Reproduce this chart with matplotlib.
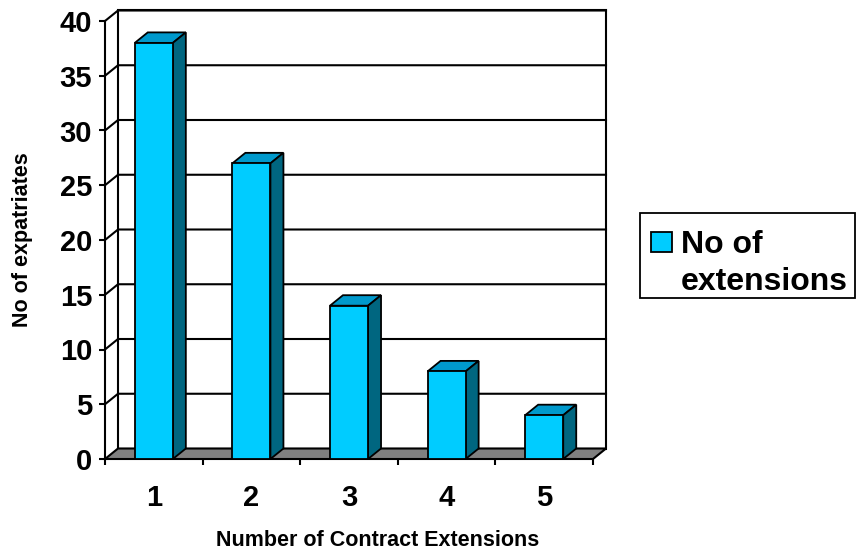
import matplotlib.pyplot as plt
from matplotlib.patches import Rectangle, Polygon

plt.rcParams['font.family'] = ['Liberation Sans', 'DejaVu Sans']
plt.rcParams['font.weight'] = 'bold'

# Data
extensions = [1, 2, 3, 4, 5]
expatriates = [38, 27, 14, 8, 4]
y_ticks = [0, 5, 10, 15, 20, 25, 30, 35, 40]
series_name = "No of\nextensions"

front_col = '#00CCFF'
top_col = '#0099CC'
side_col = '#006680'
floor_col = '#808080'

W, H = 859, 550
fig = plt.figure(figsize=(W / 100, H / 100), dpi=100)
# front plane of the 3-D box
ax = fig.add_axes([105 / W, 1 - 459 / H, 488 / W, 438 / H])
ax.set_xlim(0.5, 5.5)
ax.set_ylim(0, 40)

# depth of the box in data units
DX = 13 / 97.6
DY = 10.5 / 10.95

# back wall with gridlines running across the side wall
ax.add_patch(Rectangle((0.5 + DX, DY), 5, 40, fc='white', ec='black', lw=1.5,
                       clip_on=False, zorder=1))
for v in y_ticks[1:]:
    ax.plot([0.5, 0.5 + DX, 5.5 + DX], [v, v + DY, v + DY], color='black',
            lw=1.5, clip_on=False, zorder=1)

# floor
ax.add_patch(Polygon([(0.5, 0), (5.5, 0), (5.5 + DX, DY), (0.5 + DX, DY)],
                     closed=True, fc=floor_col, ec='black', lw=1.5,
                     clip_on=False, zorder=2))

# bars with top and side faces
bw = 0.39
ax.bar(extensions, expatriates, width=bw, color=front_col, ec='black', lw=1.3,
       zorder=4, clip_on=False)
for x, v in zip(extensions, expatriates):
    x0, x1 = x - bw / 2, x + bw / 2
    ax.add_patch(Polygon([(x0, v), (x1, v), (x1 + DX, v + DY), (x0 + DX, v + DY)],
                         closed=True, fc=top_col, ec='black', lw=1.3,
                         clip_on=False, zorder=3))
    ax.add_patch(Polygon([(x1, 0), (x1 + DX, DY), (x1 + DX, v + DY), (x1, v)],
                         closed=True, fc=side_col, ec='black', lw=1.3,
                         clip_on=False, zorder=3))

# axes
for s in ['top', 'right', 'bottom']:
    ax.spines[s].set_visible(False)
ax.spines['left'].set_linewidth(1.5)
ax.spines['left'].set_zorder(5)
ax.set_yticks(y_ticks)
ax.tick_params(axis='y', direction='out', length=4.3, width=1.5, pad=5,
               labelsize=21)
ax.set_xticks(extensions)
ax.set_xticks([0.5, 1.5, 2.5, 3.5, 4.5, 5.5], minor=True)
ax.tick_params(axis='x', which='major', length=0, pad=18, labelsize=21)
ax.tick_params(axis='x', which='minor', direction='out', length=4.5, width=1.5)
for lab in ax.get_xticklabels() + ax.get_yticklabels():
    lab.set_fontweight('bold')

ax.set_ylabel("No of expatriates", fontsize=15.5, fontweight='bold')
ax.yaxis.set_label_coords(-0.1475, 0.5)
fig.text(378 / W, 1 - 540 / H, "Number of Contract Extensions", fontsize=15.5,
         fontweight='bold', ha='center', va='center')

# legend box
fig.patches.append(Rectangle((640 / W, 1 - 298 / H), 215 / W, 85 / H,
                             transform=fig.transFigure, fc='white', ec='black',
                             lw=1.3))
fig.patches.append(Rectangle((651 / W, 1 - 252 / H), 21 / W, 20 / H,
                             transform=fig.transFigure, fc=front_col, ec='black',
                             lw=1.3))
line1, line2 = series_name.split("\n")
fig.text(681 / W, 1 - 253 / H, line1, fontsize=23, fontweight='bold',
         va='baseline', ha='left')
fig.text(681 / W, 1 - 290 / H, line2, fontsize=23, fontweight='bold',
         va='baseline', ha='left')

fig.savefig('out.png', dpi=100)
